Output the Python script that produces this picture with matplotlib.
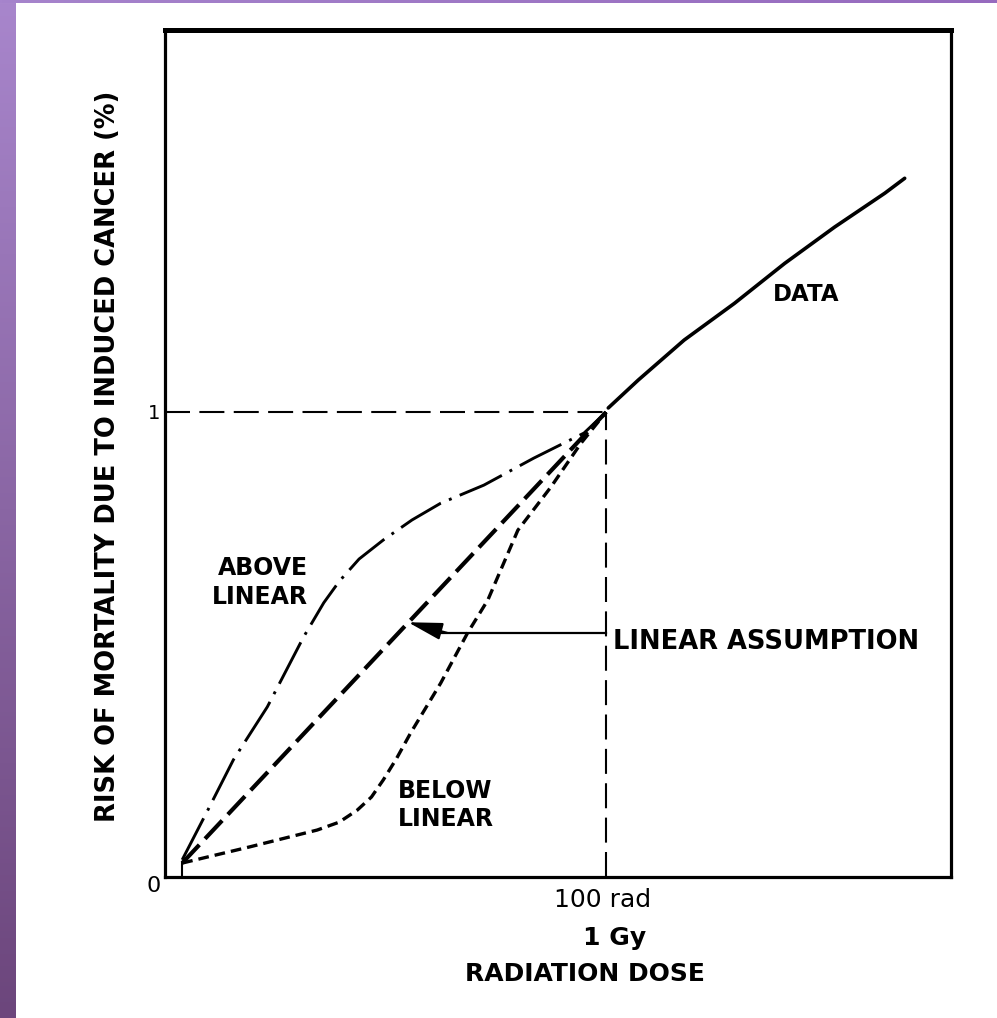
import numpy as np
import matplotlib.pyplot as plt

plt.rcParams['font.family'] = 'DejaVu Sans'

# dosis (rad) y riesgo (%) de cada curva
dosis_datos = [100.5, 107.3, 117.7, 129.1, 140.5, 151.8, 163.2, 167.7]
riesgo_datos = [1.009, 1.069, 1.155, 1.234, 1.320, 1.398, 1.471, 1.503]

dosis_lineal = [3.9, 100.0]
riesgo_lineal = [0.03, 1.0]

dosis_arriba = [3.9, 9.5, 15.5, 23.2, 31.4, 36.0, 39.5, 44.0, 49.5, 56.0, 62.5, 72.3, 83.6, 95.0, 100.0]
riesgo_arriba = [0.037, 0.14, 0.252, 0.366, 0.516, 0.590, 0.636, 0.684, 0.725, 0.768, 0.804, 0.843, 0.901, 0.955, 1.0]

dosis_abajo = [3.9, 19.3, 34.5, 39.5, 43.6, 46.8, 49.5, 52.5, 55.7, 62.5, 68.6, 73.2, 80.0, 87.5, 94.3, 100.0]
riesgo_abajo = [0.030, 0.065, 0.101, 0.118, 0.144, 0.172, 0.209, 0.255, 0.310, 0.417, 0.525, 0.596, 0.746, 0.839, 0.933, 1.0]

x_ref = 100
y_ref = 1
y_flecha = 0.525
punta_flecha = (55.1, 0.548)

fig = plt.figure(figsize=(9.97, 10.18), dpi=100)

# franjas moradas del borde
franja = fig.add_axes([0, 0, 15 / 997, 1])
grad = np.linspace(0, 1, 256).reshape(-1, 1)
c1 = np.array([168, 134, 204]) / 255
c2 = np.array([108, 70, 124]) / 255
img = c1 + (c2 - c1) * grad[:, :, None]
franja.imshow(img, aspect='auto', extent=[0, 1, 0, 1])
franja.axis('off')

franja2 = fig.add_axes([0, 1 - 3 / 1018, 1, 3 / 1018])
grad2 = np.linspace(0, 1, 256).reshape(1, -1)
d1 = np.array([166, 132, 204]) / 255
d2 = np.array([150, 106, 190]) / 255
img2 = d1 + (d2 - d1) * grad2[:, :, None]
franja2.imshow(img2, aspect='auto', extent=[0, 1, 0, 1])
franja2.axis('off')

ax = fig.add_axes([165 / 997, 1 - 877 / 1018, 786 / 997, 847 / 1018])
ax.set_xlim(0, 178.2)
ax.set_ylim(0, 1.822)

for lado in ['left', 'right', 'bottom']:
    ax.spines[lado].set_linewidth(2.3)
ax.spines['top'].set_linewidth(3.6)
ax.set_xticks([])
ax.set_yticks([])

# lineas de referencia
ax.plot([0, x_ref], [y_ref, y_ref], color='black', lw=1.5, dashes=(12, 4.5))
ax.plot([x_ref, x_ref], [0, y_ref], color='black', lw=1.5, dashes=(12, 4.5))

# curvas
ax.plot(dosis_datos, riesgo_datos, color='black', lw=2.6, solid_capstyle='round')
ax.plot(dosis_lineal, riesgo_lineal, color='black', lw=3, dashes=(6, 2))
ax.plot(dosis_arriba, riesgo_arriba, color='black', lw=2.1, dashes=(16, 3, 1, 3))
ax.plot(dosis_abajo, riesgo_abajo, color='black', lw=2.4, dashes=(3.2, 1.8))
ax.plot([3.9, 3.9], [0, 0.03], color='black', lw=1.5)

# flecha
ax.plot([x_ref, 62], [y_flecha, y_flecha], color='black', lw=1.6)
ax.annotate('', xy=punta_flecha, xytext=(64, y_flecha),
            arrowprops=dict(arrowstyle='-|>,head_length=1.4,head_width=0.35',
                            mutation_scale=15, color='black', lw=1.6,
                            shrinkA=0, shrinkB=0))

# textos
ax.text(32.4, 0.634, 'ABOVE\nLINEAR', ha='right', va='center', multialignment='right',
        fontsize=17, fontweight='bold', linespacing=1.25)
ax.text(52.8, 0.155, 'BELOW\nLINEAR', ha='left', va='center', multialignment='left',
        fontsize=17, fontweight='bold', linespacing=1.2)
ax.text(137.9, 1.254, 'DATA', ha='left', va='center', fontsize=16.5, fontweight='bold')
ax.text(101.6, 0.505, 'LINEAR ASSUMPTION', ha='left', va='center', fontsize=18.5,
        fontweight='bold')

ax.text(-2.5, 0.998, '1', ha='center', va='center', fontsize=14, clip_on=False)
ax.text(-2.5, -0.019, '0', ha='center', va='center', fontsize=16, clip_on=False)

ax.text(99.3, -0.05, '100 rad', ha='center', va='center', fontsize=18, clip_on=False)
ax.text(102, -0.131, '1 Gy', ha='center', va='center', fontsize=18, fontweight='bold',
        clip_on=False)
ax.text(95.2, -0.209, 'RADIATION DOSE', ha='center', va='center', fontsize=18,
        fontweight='bold', clip_on=False)

ax.text(-12.9, 0.905, 'RISK OF MORTALITY DUE TO INDUCED CANCER (%)', rotation=90,
        ha='center', va='center', fontsize=18.5, fontweight='bold', clip_on=False)

plt.savefig('out.png', dpi=100)
